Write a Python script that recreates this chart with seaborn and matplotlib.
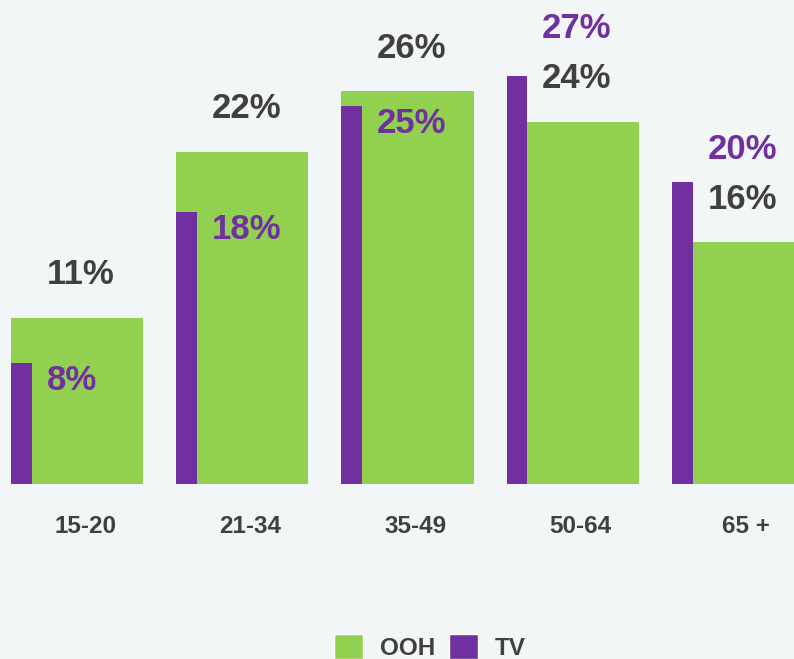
import pandas as pd
import numpy as np
import matplotlib
matplotlib.use('Agg')
import matplotlib.pyplot as plt
import matplotlib.transforms as mtransforms
import seaborn as sns
from matplotlib.patches import Patch

# chart data
age_groups = ['15-20', '21-34', '35-49', '50-64', '65 +']
ooh_share = [11, 22, 26, 24, 16]
tv_share = [8, 18, 25, 27, 20]

green = '#92d050'
purple = '#7030a0'
dark = '#404040'
bg = '#f3f6f7'

df = pd.DataFrame({'age': age_groups, 'OOH': ooh_share, 'TV': tv_share})

sns.set_style('white')
plt.rcParams['font.family'] = ['Liberation Sans', 'DejaVu Sans']

fig = plt.figure(figsize=(7.94, 6.59), dpi=100)
fig.patch.set_facecolor(bg)
ax = fig.add_axes([0, 175 / 659, 1, 484 / 659])
ax.set_facecolor(bg)

grp_w = 0.8
tv_w = 0.125
sns.barplot(data=df, x='age', y='OOH', color=green, saturation=1, width=grp_w, ax=ax, zorder=2)
n_ooh = len(ax.patches)
sns.barplot(data=df, x='age', y='TV', color=purple, saturation=1, width=tv_w, ax=ax, zorder=3)
# push the thin TV bars to the left edge of each group
for p in ax.patches[n_ooh:]:
    p.set_x(p.get_x() - grp_w / 2 + tv_w / 2)
for p in ax.patches:
    p.set_linewidth(0)

px_per_unit = 15.1
ax.set_xlim(-77 / 165.25, (794 - 77) / 165.25)
ax.set_ylim(0, 484 / px_per_unit)

lab_x = -grp_w / 2 + 0.215
for i, (o, t) in enumerate(zip(ooh_share, tv_share)):
    y_ooh = o + 43 / px_per_unit
    if t > o:
        # TV label stacked above the OOH label
        y_tv = y_ooh + 50 / px_per_unit
    else:
        y_tv = t - 17 / px_per_unit
    ax.text(i + lab_x, y_ooh, f'{o}%', ha='left', va='center', color=dark,
            fontsize=25, fontweight='bold', zorder=4)
    ax.text(i + lab_x, y_tv, f'{t}%', ha='left', va='center', color=purple,
            fontsize=25, fontweight='bold', zorder=4)

ax.set_xlabel('')
ax.set_ylabel('')
ax.set_yticks([])
ax.tick_params(axis='x', length=0, pad=22)
shift = mtransforms.ScaledTranslation(8 / 100, 0, fig.dpi_scale_trans)
for lab in ax.get_xticklabels():
    lab.set_fontsize(17.5)
    lab.set_fontweight('bold')
    lab.set_color(dark)
    lab.set_transform(lab.get_transform() + shift)
sns.despine(ax=ax, left=True, bottom=True)

handles = [Patch(facecolor=green, label='OOH'), Patch(facecolor=purple, label='TV')]
leg = fig.legend(handles=handles, loc='center', bbox_to_anchor=(430 / 794, 12 / 659), ncol=2,
                 frameon=False, handlelength=1.2, handleheight=1.2, handletextpad=0.7,
                 columnspacing=0.55, prop={'size': 17.5, 'weight': 'bold'})
for txt in leg.get_texts():
    txt.set_color(dark)

fig.savefig('out.png', dpi=100, facecolor=bg)
